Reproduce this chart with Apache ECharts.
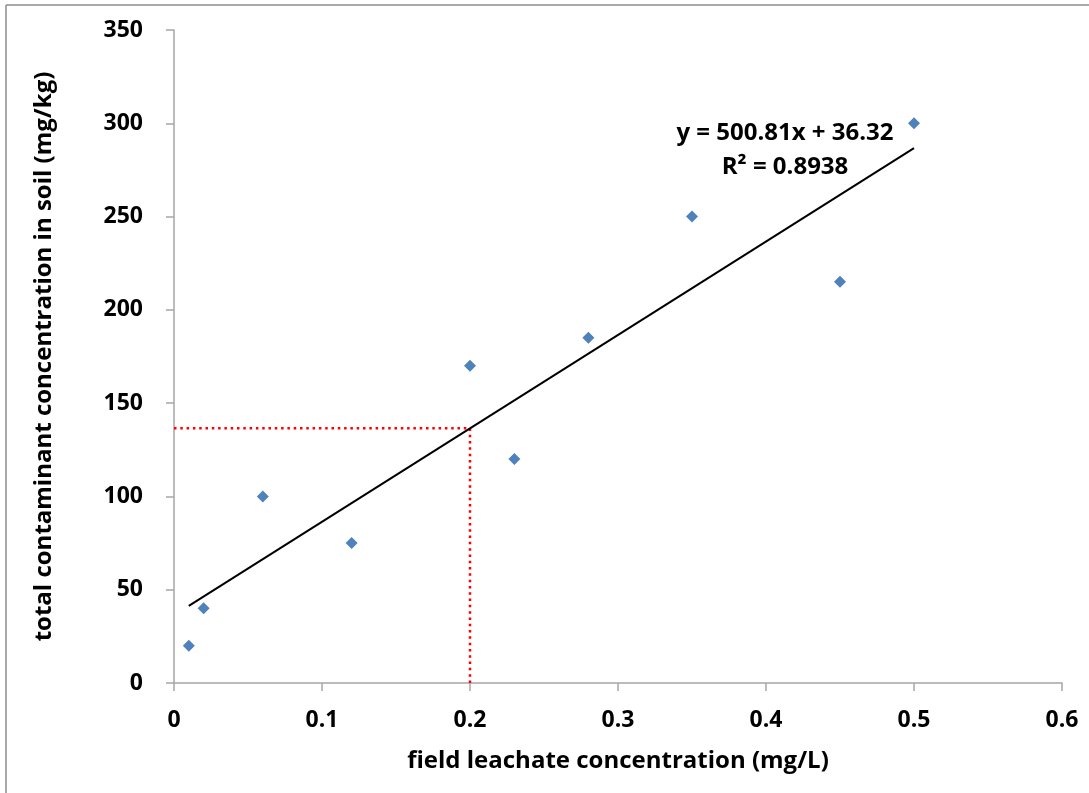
<!DOCTYPE html>
<html>
<head>
<meta charset="utf-8">
<script src="https://cdn.jsdelivr.net/npm/echarts@6/dist/echarts.min.js"></script>
<style>
html,body{margin:0;padding:0;background:#fff;}
#chart{width:1089px;height:793px;}
</style>
</head>
<body>
<div id="chart"></div>
<script>
const leachate = [0.01, 0.02, 0.06, 0.12, 0.20, 0.23, 0.28, 0.35, 0.45, 0.50];
const soilTotal = [20, 40, 100, 75, 170, 120, 185, 250, 215, 300];
const slope = 500.81;
const intercept = 36.32;
const r2 = 0.8938;
const trendRange = [0.01, 0.50];
const readX = 0.2;
const xTicks = [0, 0.1, 0.2, 0.3, 0.4, 0.5, 0.6];
const yTicks = [0, 50, 100, 150, 200, 250, 300, 350];

const points = leachate.map((x, i) => [x, soilTotal[i]]);
const trend = trendRange.map(x => [x, slope * x + intercept]);
const readY = slope * readX + intercept;
const guide = [[0, readY], [readX, readY], [readX, 0]];

const FONT = '"Open Sans", "Liberation Sans", sans-serif';
const chart = echarts.init(document.getElementById('chart'));
chart.setOption({
  animation: false,
  backgroundColor: '#fff',
  grid: {left: 174, right: 27, top: 30, bottom: 110},
  xAxis: {
    type: 'value', min: 0, max: 0.6, interval: 0.1,
    name: 'field leachate concentration (mg/L)',
    nameLocation: 'middle', nameGap: 66,
    nameTextStyle: {fontFamily: FONT, fontWeight: 'bold', fontSize: 24, color: '#000'},
    axisLine: {show: true, onZero: false, lineStyle: {color: '#a6a6a6', width: 1.5}},
    axisTick: {show: true, inside: false, length: 8, lineStyle: {color: '#a6a6a6', width: 1.5}},
    axisLabel: {fontFamily: FONT, fontWeight: 'bold', fontSize: 23, color: '#000', margin: 26,
      formatter: v => String(Math.round(v * 10) / 10)},
    splitLine: {show: false}
  },
  yAxis: {
    type: 'value', min: 0, max: 350, interval: 50,
    name: 'total contaminant concentration in soil (mg/kg)',
    nameLocation: 'middle', nameGap: 118, nameRotate: 90,
    nameTextStyle: {fontFamily: FONT, fontWeight: 'bold', fontSize: 24, color: '#000'},
    axisLine: {show: true, lineStyle: {color: '#a6a6a6', width: 1.5}},
    axisTick: {show: true, inside: false, length: 8, lineStyle: {color: '#a6a6a6', width: 1.5}},
    axisLabel: {fontFamily: FONT, fontWeight: 'bold', fontSize: 23, color: '#000', margin: 31},
    splitLine: {show: false}
  },
  series: [
    {
      type: 'line', data: guide, symbol: 'none', silent: true, z: 1,
      lineStyle: {color: '#ff0000', width: 2.5, type: [2.5, 3.8]}
    },
    {
      type: 'line', data: trend, symbol: 'none', silent: true, z: 2,
      lineStyle: {color: '#000', width: 2}
    },
    {
      type: 'scatter', data: points, symbol: 'diamond', symbolSize: 12, z: 3,
      itemStyle: {color: '#4f81bd', opacity: 1}
    }
  ],
  graphic: [
    {type: 'line', shape: {x1: 6, y1: 5, x2: 1089, y2: 5}, style: {stroke: '#8c8c8c', lineWidth: 1.5}},
    {type: 'line', shape: {x1: 6, y1: 5, x2: 6, y2: 793}, style: {stroke: '#8c8c8c', lineWidth: 1.5}},
    {type: 'text', x: 785, y: 133, style: {text: 'y = 500.81x + 36.32', fontFamily: FONT, fontWeight: 'bold', fontSize: 24, fill: '#000', textAlign: 'center', textVerticalAlign: 'middle'}},
    {type: 'text', x: 785, y: 167, style: {text: 'R² = ' + r2, fontFamily: FONT, fontWeight: 'bold', fontSize: 24, fill: '#000', textAlign: 'center', textVerticalAlign: 'middle'}}
  ]
});
</script>
</body>
</html>
